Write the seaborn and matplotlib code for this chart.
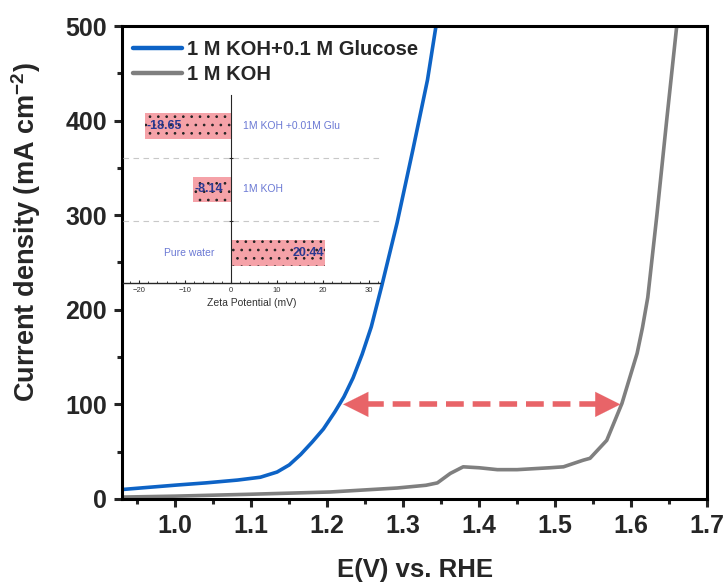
import matplotlib
matplotlib.use("Agg")
import matplotlib.pyplot as plt
from matplotlib.ticker import MultipleLocator
import seaborn as sns
import pandas as pd

# LSV data: potential (V vs. RHE) and current density (mA cm^-2)
e_glucose = [0.930, 0.960, 1.003, 1.040, 1.082, 1.112, 1.134, 1.150, 1.165, 1.180,
             1.195, 1.210, 1.222, 1.234, 1.246, 1.258, 1.272, 1.292, 1.313, 1.332,
             1.343]
j_glucose = [10.0, 12.0, 14.8, 17.0, 20.0, 23.0, 28.5, 36.0, 47.0, 60.0,
             74.0, 92.0, 108.0, 128.0, 153.0, 182.0, 226.0, 292.0, 370.0, 443.0,
             499.0]

e_koh = [0.930, 1.000, 1.099, 1.204, 1.292, 1.330, 1.345, 1.362, 1.379, 1.400,
         1.424, 1.450, 1.493, 1.511, 1.537, 1.546, 1.568, 1.588, 1.608, 1.615,
         1.622, 1.634, 1.647, 1.660]
j_koh = [2.0, 3.0, 5.0, 7.4, 11.6, 14.5, 17.0, 27.0, 34.0, 33.0,
         31.0, 31.0, 33.0, 34.0, 41.0, 43.0, 62.0, 101.0, 154.0, 181.0,
         213.0, 300.0, 401.0, 499.0]

label_glucose = "1 M KOH+0.1 M Glucose"
label_koh = "1 M KOH"

# Zeta potential data for the inset
zeta_samples = ["1M KOH +0.01M Glu", "1M KOH", "Pure water"]
zeta_values = [-18.65, -8.14, 20.44]
zeta_text = ["-18.65", "-8.14", "20.44"]

# Potentials at 100 mA cm^-2 for the double arrow
arrow_j = 100
arrow_e_left = 1.221
arrow_e_right = 1.586

sns.set_theme(style="ticks")
plt.rcParams["font.family"] = ["Liberation Sans", "DejaVu Sans"]
plt.rcParams["mathtext.fontset"] = "custom"
plt.rcParams["mathtext.rm"] = "Liberation Sans:bold"
plt.rcParams["mathtext.default"] = "rm"
plt.rcParams["hatch.linewidth"] = 0.7

fig = plt.figure(figsize=(7.27, 5.86), dpi=100)
ax = fig.add_axes([0.168, 0.1485, 0.8045, 0.8071])

blue = "#0d63c6"
gray = "#7f7f7f"
sns.lineplot(x=e_glucose, y=j_glucose, ax=ax, color=blue, lw=2.6,
             label=label_glucose, sort=False)
sns.lineplot(x=e_koh, y=j_koh, ax=ax, color=gray, lw=2.6,
             label=label_koh, sort=False)

ax.set_xlim(0.93, 1.70)
ax.set_ylim(0, 500)
ax.xaxis.set_major_locator(MultipleLocator(0.1))
ax.xaxis.set_minor_locator(MultipleLocator(0.05))
ax.yaxis.set_major_locator(MultipleLocator(100))
ax.yaxis.set_minor_locator(MultipleLocator(50))
ax.tick_params(which="major", direction="out", length=6, width=2.2,
               labelsize=18, pad=5, top=False, right=False)
ax.tick_params(which="minor", direction="out", length=3.5, width=2.2,
               top=False, right=False)
for lab in ax.get_xticklabels() + ax.get_yticklabels():
    lab.set_fontweight("bold")
for sp in ax.spines.values():
    sp.set_linewidth(2.2)
    sp.set_color("black")

ax.set_xlabel("E(V) vs. RHE", fontsize=18.5, fontweight="bold", labelpad=14)
ax.set_ylabel(r"Current density (mA cm$^{-2}$)", fontsize=19.5,
              fontweight="bold")
ax.yaxis.set_label_coords(-0.135, 0.565)

leg = ax.legend(loc="upper left", bbox_to_anchor=(-0.005, 1.0), frameon=False,
                handlelength=2.4, handletextpad=0.25, labelspacing=0.3,
                borderaxespad=0.3, prop={"weight": "bold", "size": 14.5})
for line in leg.get_lines():
    line.set_linewidth(3.2)

# Double-headed dashed arrow between the two curves
arrow_color = "#e86468"
ax.plot([arrow_e_left + 0.03, arrow_e_right - 0.03], [arrow_j, arrow_j],
        color=arrow_color, lw=4, ls=(0, (3.2, 1.6)), solid_capstyle="butt",
        zorder=5)
for tip, tail in [(arrow_e_left, arrow_e_left + 0.04),
                  (arrow_e_right, arrow_e_right - 0.04)]:
    ax.annotate("", xy=(tip, arrow_j), xytext=(tail, arrow_j),
                arrowprops=dict(arrowstyle="-|>,head_length=1.5,head_width=0.75",
                                color=arrow_color, lw=0.1, shrinkA=0, shrinkB=0),
                zorder=6)

# Inset: zeta potential bar chart
ins = fig.add_axes([0.169, 0.517, 0.3535, 0.321])
ins.set_facecolor("none")
zeta_df = pd.DataFrame({"sample": zeta_samples, "zeta": zeta_values})
sns.barplot(data=zeta_df, x="zeta", y="sample", order=zeta_samples, ax=ins,
            color="#f5a2a8", width=0.4, hatch="..", edgecolor="#222222",
            linewidth=0, saturation=1)
ins.set_xlim(-23.5, 32.4)
ins.set_ylim(2.476, -0.49)
ins.spines["top"].set_visible(False)
ins.spines["right"].set_visible(False)
ins.spines["left"].set_position(("data", 0))
ins.spines["left"].set_linewidth(0.8)
ins.spines["bottom"].set_linewidth(1.0)
ins.set_yticks([0.5, 1.5])
ins.set_yticklabels([])
ins.tick_params(axis="y", direction="inout", length=2.5, width=0.8)
ins.xaxis.set_major_locator(MultipleLocator(10))
ins.xaxis.set_minor_locator(MultipleLocator(2))
ins.tick_params(axis="x", which="major", direction="in", length=2.5, width=0.8,
                labelsize=5.5, pad=3, labelcolor="#333333")
ins.tick_params(axis="x", which="minor", direction="in", length=1.5, width=0.6)
for yv in [0.5, 1.5]:
    ins.axhline(yv, color="#c8c8c8", lw=0.8, ls=(0, (5, 4)), zorder=0)
ins.set_xlabel("Zeta Potential (mV)", fontsize=7.5, color="#333333", labelpad=3)
ins.set_ylabel("")

navy = "#2b3991"
cat_color = "#6b79d4"
for pos, (val, txt, name) in enumerate(zip(zeta_values, zeta_text, zeta_samples)):
    if val < 0:
        ins.text(val + 0.2, pos, txt, ha="left", va="center", fontsize=9,
                 fontweight="bold", color=navy, zorder=5)
        ins.text(2.6, pos, name, ha="left", va="center", fontsize=7.5,
                 color=cat_color)
    else:
        ins.text(val - 0.2, pos, txt, ha="right", va="center", fontsize=9,
                 fontweight="bold", color=navy, zorder=5)
        ins.text(-3.7, pos, name, ha="right", va="center", fontsize=7.5,
                 color=cat_color)

fig.savefig("out.png", dpi=100)
